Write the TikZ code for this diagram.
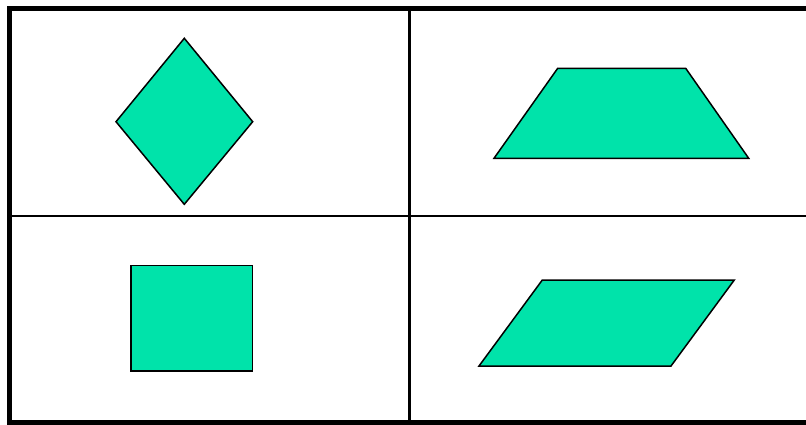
\documentclass[tikz,border=0pt]{standalone}
\definecolor{shapefill}{RGB}{0,227,170}
\begin{document}
\begin{tikzpicture}[x=1pt,y=-1pt,
  shapestyle/.style={fill=shapefill,draw=black,line width=1.5pt,line join=miter},
  gridline/.style={draw=black,line width=2.5pt},
  frameline/.style={draw=black,line width=5pt}]
\useasboundingbox (0,0) rectangle (806,424);
\clip (0,0) rectangle (806,424);
% grid
\draw[gridline] (409.5,8) -- (409.5,424);
\draw[gridline] (9.5,216) -- (806,216);
\draw[frameline] (812,8) -- (9.5,8) -- (9.5,422.5) -- (812,422.5);
% diamond
\draw[shapestyle] (184.3,38.3) -- (252.7,121.7) -- (184.3,204.3) -- (116,121.7) -- cycle;
% trapezoid
\draw[shapestyle] (557.7,68.3) -- (685.7,68.3) -- (748.7,158.3) -- (494,158.3) -- cycle;
% square
\draw[shapestyle] (131,265.7) rectangle (252.3,371);
% parallelogram
\draw[shapestyle] (542.3,280) -- (734.3,280) -- (671,366) -- (479,366) -- cycle;
\end{tikzpicture}
\end{document}
